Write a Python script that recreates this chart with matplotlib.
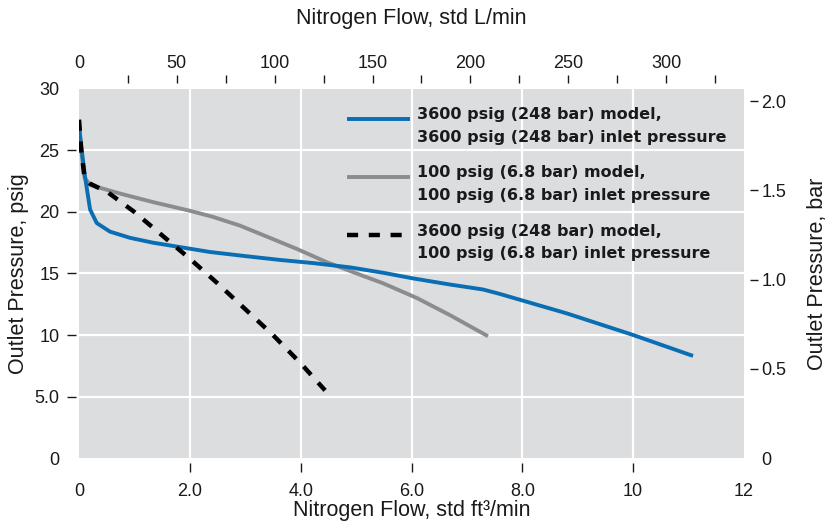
import matplotlib
matplotlib.use('Agg')
import numpy as np
import matplotlib.pyplot as plt
from matplotlib.ticker import FixedLocator
from matplotlib.legend_handler import HandlerLine2D
from matplotlib.lines import Line2D

# ---- data (flow in std ft3/min, outlet pressure in psig) ----
flow_3600_3600 = [0, 0.05, 0.11, 0.2, 0.32, 0.56, 0.92, 1.34, 1.82, 2.36, 3.03, 3.63,
                  4.22, 4.89, 5.5, 6.03, 6.7, 7.29, 7.6, 8.8, 10.0, 11.08]
psig_3600_3600 = [26.9, 25.0, 22.8, 20.2, 19.1, 18.4, 17.9, 17.5, 17.15, 16.75, 16.4, 16.1,
                  15.85, 15.5, 15.05, 14.6, 14.1, 13.7, 13.33, 11.76, 10.0, 8.3]

flow_100_100 = [0, 0.04, 0.1, 0.2, 0.74, 1.34, 2.0, 2.42, 2.9, 3.39, 3.93, 4.48,
                5.07, 5.49, 6.1, 6.7, 7.38]
psig_100_100 = [27.5, 25.0, 22.8, 22.2, 21.5, 20.8, 20.1, 19.6, 18.9, 18.0, 17.0, 15.9,
                14.9, 14.2, 13.0, 11.6, 9.9]

flow_3600_100 = [0, 0.04, 0.1, 0.2, 0.52, 1.0, 1.5, 2.0, 2.5, 3.0, 3.5, 4.0, 4.44]
psig_3600_100 = [27.5, 25.0, 22.8, 22.3, 21.6, 20.0, 18.1, 16.2, 14.2, 12.1, 10.0, 7.7, 5.5]

series_labels = [
    "3600 psig (248 bar) model,\n3600 psig (248 bar) inlet pressure",
    "100 psig (6.8 bar) model,\n100 psig (6.8 bar) inlet pressure",
    "3600 psig (248 bar) model,\n100 psig (6.8 bar) inlet pressure",
]

x_ticks = [0, 2, 4, 6, 8, 10, 12]
x_tick_labels = ['0', '2.0', '4.0', '6.0', '8.0', '10', '12']
y_ticks = [0, 5, 10, 15, 20, 25, 30]
y_tick_labels = ['0', '5.0', '10', '15', '20', '25', '30']
bar_ticks = [0, 0.5, 1.0, 1.5, 2.0]
bar_tick_labels = ['0', '0.5', '1.0', '1.5', '2.0']
lpm_label_ticks = [0, 50, 100, 150, 200, 250, 300]
lpm_mark_ticks = [25, 50, 75, 100, 125, 150, 175, 200, 225, 250, 275, 300, 325]

SCFM_TO_LPM = 28.3168
PSI_PER_BAR = 14.5038

# ---- style ----
BG = '#dcdddf'
BLUE = '#0a6eb4'
GRAY = '#8c8c8e'
TXT = '#1a1a1a'
TICK_FS = 13
LABEL_FS = 15.5
plt.rcParams['font.family'] = ['Liberation Sans', 'DejaVu Sans']


class RaisedLineHandler(HandlerLine2D):
    """Legend handle drawn level with the first line of a two-line label."""
    def __init__(self, shift, **kw):
        super().__init__(**kw)
        self.shift = shift

    def create_artists(self, legend, orig_handle, xdescent, ydescent, width, height,
                       fontsize, trans):
        arts = super().create_artists(legend, orig_handle, xdescent, ydescent, width,
                                      height, fontsize, trans)
        for a in arts:
            if isinstance(a, Line2D):
                a.set_ydata(np.asarray(a.get_ydata(), dtype=float) + self.shift)
        return arts


fig = plt.figure(figsize=(8.3, 5.21), dpi=100)
ax = fig.add_axes([0.0952, 0.1209, 0.8012, 0.7083])
ax.set_facecolor(BG)
ax.set_xlim(0, 12)
ax.set_ylim(0, 30)

l1, = ax.plot(flow_3600_3600, psig_3600_3600, color=BLUE, lw=2.8, solid_joinstyle='round',
              solid_capstyle='butt', zorder=4, label=series_labels[0])
l2, = ax.plot(flow_100_100, psig_100_100, color=GRAY, lw=2.8, solid_joinstyle='round',
              solid_capstyle='butt', zorder=3, label=series_labels[1])
l3, = ax.plot(flow_3600_100, psig_3600_100, color='black', lw=3.2, linestyle=(0, (2.5, 2.4)),
              dash_capstyle='butt', zorder=5, label=series_labels[2])

for s in ax.spines.values():
    s.set_visible(False)
ax.spines['left'].set_position(('outward', 2.5))
ax.spines['bottom'].set_position(('outward', 3.5))

ax.set_xticks(x_ticks, labels=x_tick_labels)
ax.set_yticks(y_ticks, labels=y_tick_labels)
ax.tick_params(axis='both', which='major', direction='out', length=6.5, width=1.0,
               color=TXT, labelcolor=TXT, labelsize=TICK_FS)
ax.tick_params(axis='y', pad=5)
ax.tick_params(axis='x', pad=8)
ax.grid(True, color='white', linewidth=1.6)
ax.set_axisbelow(True)
for tks in (ax.xaxis.get_major_ticks(), ax.yaxis.get_major_ticks()):
    for t in (tks[0], tks[-1]):
        t.tick1line.set_visible(False)
        t.gridline.set_visible(False)

ax.set_xlabel('Nitrogen Flow, std ft\u00b3/min', fontsize=LABEL_FS, color=TXT, labelpad=0)
ax.set_ylabel('Outlet Pressure, psig', fontsize=LABEL_FS, color=TXT, labelpad=4)

# top axis: L/min
top = ax.secondary_xaxis('top', functions=(lambda v: v * SCFM_TO_LPM,
                                           lambda v: v / SCFM_TO_LPM))
for s in top.spines.values():
    s.set_visible(False)
top.spines['top'].set_position(('outward', 4.5))
top.set_xticks(lpm_label_ticks, labels=[str(v) for v in lpm_label_ticks])
top.xaxis.set_minor_locator(FixedLocator(lpm_mark_ticks))
top.xaxis.remove_overlapping_locs = False
top.tick_params(axis='x', which='major', length=0, pad=7.5, labelsize=TICK_FS, labelcolor=TXT)
top.tick_params(axis='x', which='minor', length=6.0, width=1.0, color=TXT)
top.set_xlabel('Nitrogen Flow, std L/min', fontsize=LABEL_FS, color=TXT, labelpad=22.5)

# right axis: bar
right = ax.secondary_yaxis('right', functions=(lambda v: v / PSI_PER_BAR,
                                               lambda v: v * PSI_PER_BAR))
for s in right.spines.values():
    s.set_visible(False)
right.spines['right'].set_position(('outward', 4))
right.set_yticks(bar_ticks, labels=bar_tick_labels)
right.tick_params(axis='y', which='major', length=5.5, width=1.0, color=TXT,
                  labelcolor=TXT, labelsize=TICK_FS, pad=3)
right.yaxis.get_major_ticks()[0].tick2line.set_visible(False)
right.set_ylabel('Outlet Pressure, bar', fontsize=LABEL_FS, color=TXT, labelpad=15)

hm = {h: RaisedLineHandler(shift=5.5) for h in (l1, l2, l3)}
leg = ax.legend(handles=[l1, l2, l3], loc='upper left', bbox_to_anchor=(0.403, 0.951),
                frameon=False, handler_map=hm,
                prop={'family': 'DejaVu Sans', 'weight': 'bold', 'size': 11.5},
                handlelength=3.95, handletextpad=0.45, labelspacing=1.3,
                borderpad=0, borderaxespad=0)
for t in leg.get_texts():
    t.set_linespacing(1.63)
    t.set_color(TXT)

fig.savefig('out.png', dpi=100)
